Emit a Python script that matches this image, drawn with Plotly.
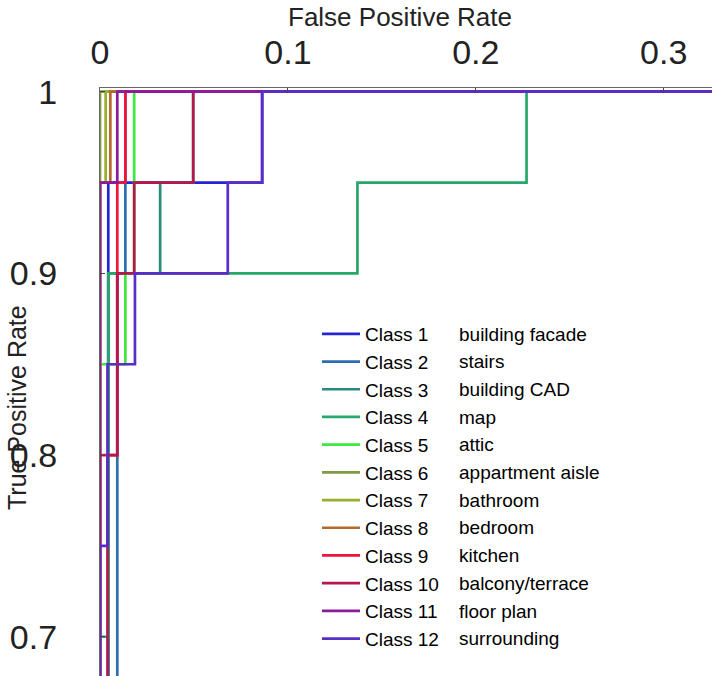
import plotly.graph_objects as go

# ---- data (FPR / TPR step vertices per class) ----
class_names = ["Class 1", "Class 2", "Class 3", "Class 4", "Class 5", "Class 6",
               "Class 7", "Class 8", "Class 9", "Class 10", "Class 11", "Class 12"]
descriptions = ["building facade", "stairs", "building CAD", "map", "attic",
                "appartment aisle", "bathroom", "bedroom", "kitchen",
                "balcony/terrace", "floor plan", "surrounding"]

fpr_1 = [0.0044, 0.0044, 0.0863, 0.0863, 1.0]
tpr_1 = [0.0, 0.95, 0.95, 1.0, 1.0]
fpr_2 = [0.0092, 0.0092, 0.0135, 0.0135, 1.0]
tpr_2 = [0.0, 0.90, 0.90, 1.0, 1.0]
fpr_3 = [0.0044, 0.0044, 0.032, 0.032, 0.0496, 0.0496, 1.0]
tpr_3 = [0.0, 0.90, 0.90, 0.95, 0.95, 1.0, 1.0]
fpr_4 = [0.0, 0.0, 0.0044, 0.0044, 0.137, 0.137, 0.227, 0.227, 1.0]
tpr_4 = [0.0, 0.70, 0.70, 0.90, 0.90, 0.95, 0.95, 1.0, 1.0]
fpr_5 = [0.0, 0.0, 0.0135, 0.0135, 0.0182, 0.0182, 1.0]
tpr_5 = [0.0, 0.85, 0.85, 0.90, 0.90, 1.0, 1.0]
fpr_6 = [0.0, 0.0, 1.0]
tpr_6 = [0.0, 1.0, 1.0]
fpr_7 = [0.0, 0.0, 0.003, 0.003, 1.0]
tpr_7 = [0.0, 0.95, 0.95, 1.0, 1.0]
fpr_8 = [0.0, 0.0, 0.0055, 0.0055, 1.0]
tpr_8 = [0.0, 0.95, 0.95, 1.0, 1.0]
fpr_9 = [0.0, 0.0, 0.0092, 0.0092, 0.0135, 0.0135, 1.0]
tpr_9 = [0.0, 0.80, 0.80, 0.95, 0.95, 1.0, 1.0]
fpr_10 = [0.004, 0.004, 0.0092, 0.0092, 0.0182, 0.0182, 0.0496, 0.0496, 1.0]
tpr_10 = [0.0, 0.80, 0.80, 0.90, 0.90, 0.95, 0.95, 1.0, 1.0]
fpr_11 = [0.0, 0.0, 0.0092, 0.0092, 1.0]
tpr_11 = [0.0, 0.95, 0.95, 1.0, 1.0]
fpr_12 = [0.0, 0.0, 0.004, 0.004, 0.0186, 0.0186, 0.068, 0.068, 0.0863, 0.0863, 1.0]
tpr_12 = [0.0, 0.75, 0.75, 0.85, 0.85, 0.90, 0.90, 0.95, 0.95, 1.0, 1.0]

fprs = [fpr_1, fpr_2, fpr_3, fpr_4, fpr_5, fpr_6, fpr_7, fpr_8, fpr_9, fpr_10, fpr_11, fpr_12]
tprs = [tpr_1, tpr_2, tpr_3, tpr_4, tpr_5, tpr_6, tpr_7, tpr_8, tpr_9, tpr_10, tpr_11, tpr_12]

colors = ["#2424d6", "#2c6cb0", "#2a8a7c", "#26a86c", "#3ee83e", "#7e9c44",
          "#98b030", "#b46a2c", "#f0143c", "#b4184c", "#8c1a9c", "#5a2cc8"]

x_ticks = [0, 0.1, 0.2, 0.3]
y_ticks = [0.7, 0.8, 0.9, 1.0]
y_tick_labels = ["0.7", "0.8", "0.9", "1"]

W, H = 712, 676
ML, MT = 100, 88
PW, PH = W - ML, H - MT

fig = go.Figure()
for name, fx, ty, c in zip(class_names, fprs, tprs, colors):
    fig.add_trace(go.Scatter(x=fx, y=ty, mode="lines", name=name,
                             line=dict(color=c, width=2.7)))

sans = "Liberation Sans, Arial, sans-serif"

fig.update_layout(
    width=W, height=H,
    margin=dict(l=ML, r=0, t=MT, b=0, pad=0),
    paper_bgcolor="white", plot_bgcolor="white",
    showlegend=True,
    legend=dict(x=(317 - ML) / PW, y=1 - (315 - MT) / PH, xanchor="left", yanchor="top",
                bgcolor="rgba(0,0,0,0)", borderwidth=0,
                font=dict(family=sans, size=19, color="black"),
                itemwidth=38, tracegroupgap=0),
    xaxis=dict(range=[0, 0.3257], side="top", tickvals=x_ticks, automargin=False,
               ticks="inside", ticklen=5, tickcolor="#444", showgrid=False, zeroline=False,
               showline=True, linecolor="#666", linewidth=1.2, mirror=False,
               tickfont=dict(family=sans, size=34, color="#222"), ticklabelstandoff=9),
    yaxis=dict(range=[0.6784, 1.00204], tickvals=y_ticks, ticktext=y_tick_labels,
               automargin=False,
               ticks="inside", ticklen=5, tickcolor="#444", showgrid=False, zeroline=False,
               showline=True, linecolor="#666", linewidth=1.2,
               tickfont=dict(family=sans, size=34, color="#222"), ticklabelstandoff=35),
)

annotations = []
for i, d in enumerate(descriptions):
    py = 334 + 27.7 * i
    annotations.append(dict(text=d, x=(457 - ML) / PW, y=1 - (py - MT) / PH,
                            xref="paper", yref="paper", xanchor="left", yanchor="middle",
                            showarrow=False,
                            font=dict(family=sans, size=19, color="black")))
annotations.append(dict(text="False Positive Rate", x=(400 - ML) / PW, y=1 + (MT - 17) / PH,
                        xref="paper", yref="paper", xanchor="center", yanchor="middle",
                        showarrow=False, font=dict(family=sans, size=26, color="#222")))
annotations.append(dict(text="True Positive Rate", x=(17 - ML) / PW, y=1 - (408 - MT) / PH,
                        xref="paper", yref="paper", xanchor="center", yanchor="middle",
                        textangle=-90, showarrow=False,
                        font=dict(family=sans, size=25, color="#222")))
fig.update_layout(annotations=annotations)

fig.write_html("out.html", config={"displayModeBar": False},
               post_script="document.body.style.margin='0px';")
